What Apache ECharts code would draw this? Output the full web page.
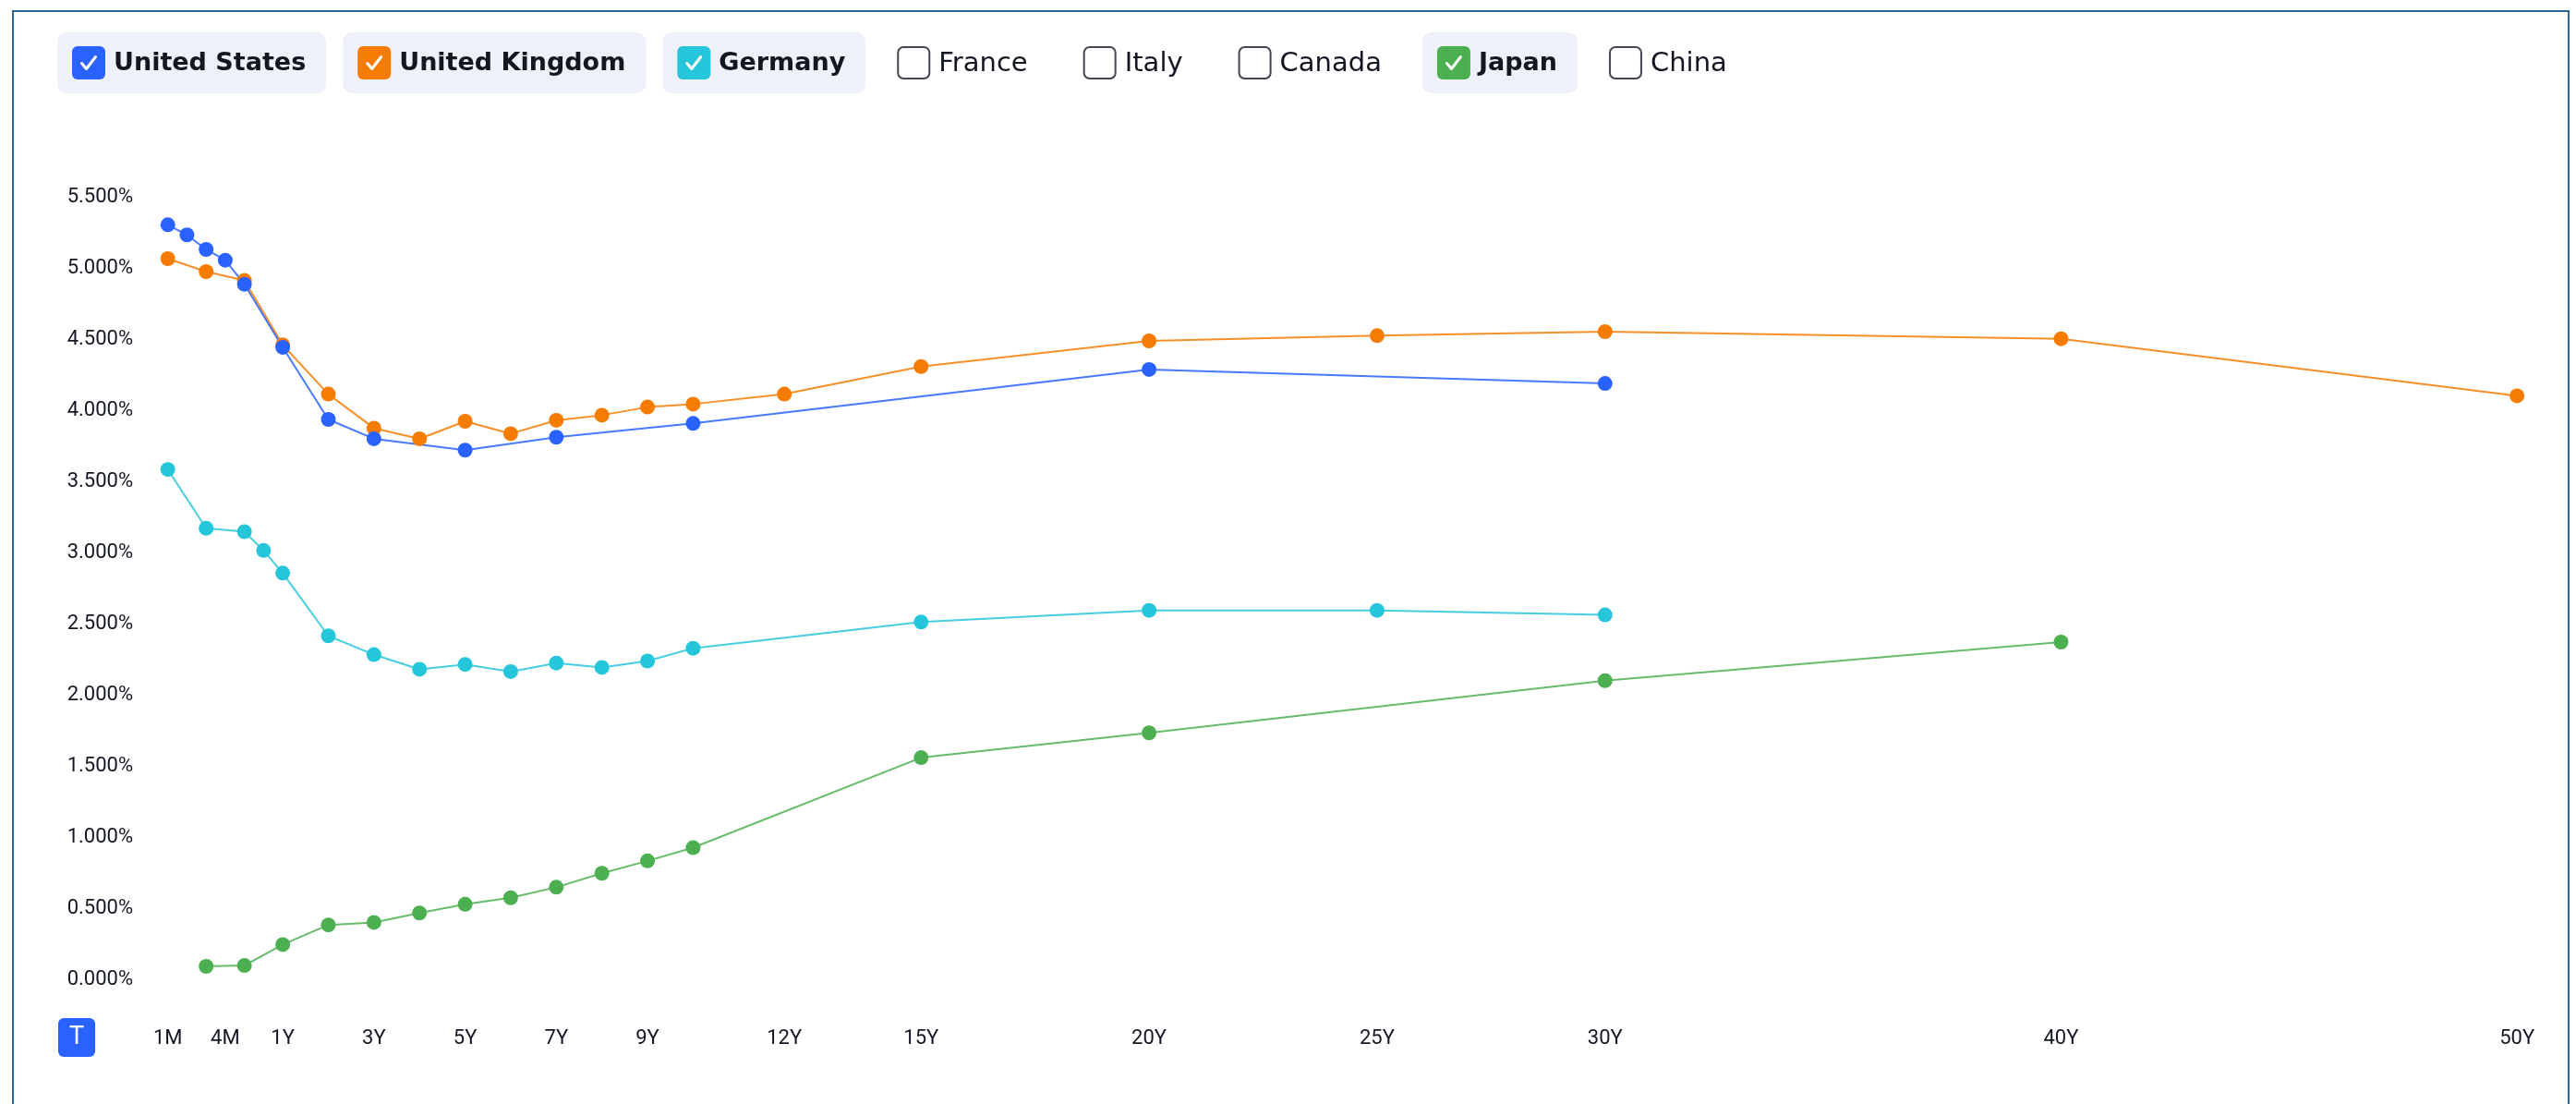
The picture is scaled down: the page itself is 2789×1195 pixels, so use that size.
<!DOCTYPE html>
<html>
<head>
<meta charset="utf-8">
<script src="https://cdn.jsdelivr.net/npm/echarts@6/dist/echarts.min.js"></script>
<style>
  html, body { margin: 0; padding: 0; background: #ffffff; }
  #chart { width: 2789px; height: 1195px; }
</style>
</head>
<body>
<div id="chart"></div>
<script>
// ---------------- DATA ----------------
const countries    = ['United States', 'United Kingdom', 'Germany', 'France', 'Italy', 'Canada', 'Japan', 'China'];
const countryShown = [true, true, true, false, false, false, true, false];

const usTenors = ['1M','2M','3M','4M','6M','1Y','2Y','3Y','5Y','7Y','10Y','20Y','30Y'];
const usYields = [5.303, 5.232, 5.130, 5.054, 4.885, 4.442, 3.935, 3.799, 3.719, 3.810, 3.907, 4.286, 4.188];

const ukTenors = ['1M','3M','6M','1Y','2Y','3Y','4Y','5Y','6Y','7Y','8Y','9Y','10Y','12Y','15Y','20Y','25Y','30Y','40Y','50Y'];
const ukYields = [5.065, 4.974, 4.912, 4.459, 4.113, 3.874, 3.799, 3.922, 3.835, 3.929, 3.965, 4.022, 4.043, 4.113, 4.307, 4.487, 4.524, 4.552, 4.502, 4.101];

const deTenors = ['1M','3M','6M','9M','1Y','2Y','3Y','4Y','5Y','6Y','7Y','8Y','9Y','10Y','15Y','20Y','25Y','30Y'];
const deYields = [3.583, 3.170, 3.146, 3.014, 2.855, 2.414, 2.282, 2.179, 2.213, 2.163, 2.223, 2.192, 2.237, 2.327, 2.511, 2.593, 2.593, 2.561];

const jpTenors = ['3M','6M','1Y','2Y','3Y','4Y','5Y','6Y','7Y','8Y','9Y','10Y','15Y','20Y','30Y','40Y'];
const jpYields = [0.091, 0.097, 0.244, 0.382, 0.400, 0.466, 0.527, 0.573, 0.647, 0.745, 0.832, 0.925, 1.558, 1.732, 2.099, 2.370];

const xTickLabels = ['1M','4M','1Y','3Y','5Y','7Y','9Y','12Y','15Y','20Y','25Y','30Y','40Y','50Y'];
const yMin = 0, yMax = 5.5, yStep = 0.5;

// ---------------- STYLE ----------------
const palette = {
  'United States': '#2962ff',
  'United Kingdom': '#f57c00',
  'Germany': '#26c6da',
  'Japan': '#4caf50'
};
const TEXT = '#131722';
const AXIS_FONT = 'Roboto';
const LEG_FONT = '"DejaVu Sans"';

// Maturity scale: sub-year tenors sit on evenly spaced slots, years are linear.
const SHORT_TENORS = ['1M','2M','3M','4M','6M','9M'];
const SHORT_SLOT = 0.42;
function tenorPos(t) {
  const i = SHORT_TENORS.indexOf(t);
  if (i >= 0) return 1 - (SHORT_TENORS.length - i) * SHORT_SLOT;
  return parseFloat(t);
}
const tickLabelAt = {};
xTickLabels.forEach(t => { tickLabelAt[tenorPos(t).toFixed(3)] = t; });

function makeSeries(name, tenors, yields) {
  const c = palette[name];
  return {
    name: name,
    type: 'line',
    data: tenors.map((t, i) => [tenorPos(t), yields[i]]),
    symbol: 'circle',
    symbolSize: 16,
    showSymbol: true,
    lineStyle: { width: 2, color: c, opacity: 0.85 },
    itemStyle: { color: c },
    emphasis: { disabled: true },
    animation: false
  };
}

// ---------------- LEGEND (checkbox pills) ----------------
const mctx = document.createElement('canvas').getContext('2d');
function textW(s, weight, size, fam) {
  mctx.font = weight + ' ' + size + 'px ' + fam;
  return mctx.measureText(s).width;
}
const legendEls = [];
(function buildLegend() {
  let x = 62;
  const top = 35, h = 66, cb = 36, cy = top + h / 2;
  countries.forEach((name, i) => {
    const on = countryShown[i];
    const weight = on ? 'bold' : 'normal';
    const size = on ? 27 : 29;
    const w = textW(name, weight, size, LEG_FONT);
    const cbX = x + 16, cbY = cy - cb / 2;
    const txX = cbX + cb + 9;
    const end = txX + w + (on ? 22 : 26);
    if (on) {
      legendEls.push({ type: 'rect', silent: true, shape: { x: x, y: top, width: end - x, height: h, r: 10 },
        style: { fill: '#eef1f8' } });
      legendEls.push({ type: 'rect', silent: true, shape: { x: cbX, y: cbY, width: cb, height: cb, r: 6 },
        style: { fill: palette[name] } });
      legendEls.push({ type: 'polyline', silent: true,
        shape: { points: [[cbX + 10.5, cbY + 18.5], [cbX + 15.5, cbY + 24.5], [cbX + 25.5, cbY + 11.5]] },
        style: { stroke: '#ffffff', lineWidth: 3, fill: null, lineCap: 'round', lineJoin: 'round' } });
    } else {
      legendEls.push({ type: 'rect', silent: true, shape: { x: cbX + 1, y: cbY + 1, width: cb - 2, height: cb - 2, r: 6 },
        style: { fill: '#ffffff', stroke: '#434651', lineWidth: 2 } });
    }
    legendEls.push({ type: 'text', silent: true, x: txX, y: cy + 1,
      style: { text: name, fill: TEXT, fontFamily: LEG_FONT, fontSize: size, fontWeight: weight,
               verticalAlign: 'middle', align: 'left' } });
    x = end + 18;
  });
})();

// ---------------- CHART ----------------
const chart = echarts.init(document.getElementById('chart'), null, { renderer: 'canvas' });
const option = {
  backgroundColor: '#ffffff',
  animation: false,
  grid: { left: 158, right: 14.5, top: 213, bottom: 135, containLabel: false },
  xAxis: {
    type: 'value',
    min: -2,
    max: 51,
    axisLine: { show: false },
    axisTick: { show: false },
    splitLine: { show: false },
    axisLabel: {
      customValues: xTickLabels.map(tenorPos),
      formatter: v => tickLabelAt[Number(v).toFixed(3)] || '',
      color: TEXT,
      fontFamily: AXIS_FONT,
      fontSize: 22,
      margin: 53,
      verticalAlign: 'top'
    }
  },
  yAxis: {
    type: 'value',
    min: yMin,
    max: yMax,
    interval: yStep,
    axisLine: { show: false },
    axisTick: { show: false },
    splitLine: { show: false },
    axisLabel: {
      formatter: v => v.toFixed(3) + '%',
      color: TEXT,
      fontFamily: AXIS_FONT,
      fontSize: 22,
      margin: 14
    }
  },
  series: [
    makeSeries('Japan', jpTenors, jpYields),
    makeSeries('Germany', deTenors, deYields),
    makeSeries('United Kingdom', ukTenors, ukYields),
    makeSeries('United States', usTenors, usYields)
  ],
  graphic: [
    { type: 'rect', silent: true, z: 100, shape: { x: 14, y: 12, width: 2767, height: 1260 },
      style: { fill: 'transparent', stroke: '#2d6690', lineWidth: 2 } },
    { type: 'group', children: legendEls },
    { type: 'rect', silent: true, shape: { x: 63, y: 1102, width: 40, height: 42, r: 6 },
      style: { fill: '#2962ff' } },
    { type: 'text', silent: true, x: 83, y: 1123.5,
      style: { text: 'T', fill: '#ffffff', fontFamily: AXIS_FONT, fontSize: 27,
               align: 'center', verticalAlign: 'middle' } }
  ]
};
chart.setOption(option);
</script>
</body>
</html>
